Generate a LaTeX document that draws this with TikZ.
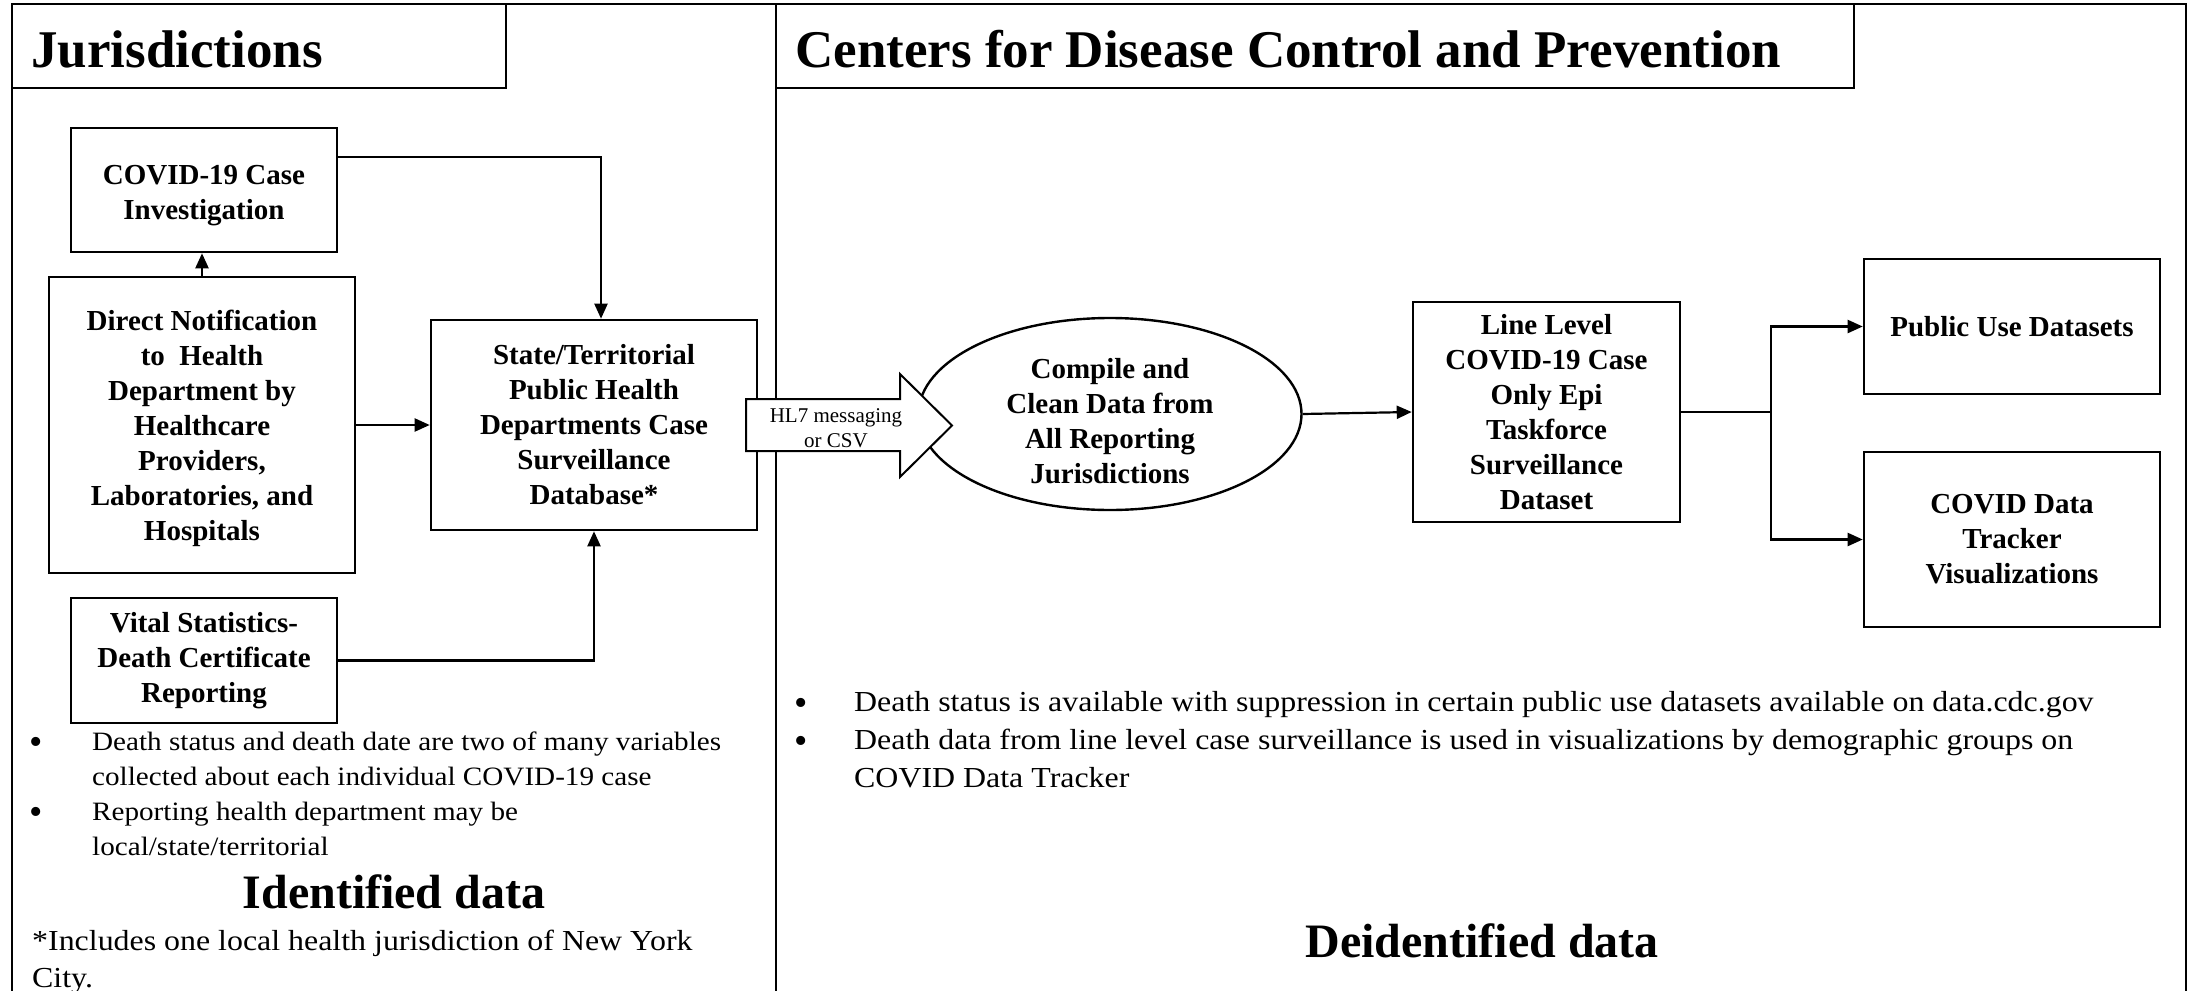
\documentclass[tikz,border=0pt]{standalone}
\usepackage{fontspec}
\setmainfont{Liberation Serif}
\newfontfamily\regwide[FakeStretch=1.1]{Liberation Serif}
\usetikzlibrary{arrows.meta,shapes.geometric}
\begin{document}
\begin{tikzpicture}[x=1pt,y=-1pt,
  box/.style={draw,line width=2.6pt,align=center,inner sep=0pt,font=\fontsize{29}{35}\selectfont\bfseries},
  boxtext/.style={inner sep=0pt,align=center,font=\fontsize{29}{35}\selectfont\bfseries},
  conn/.style={line width=2.2pt,-{Triangle[length=15pt,width=13pt]}},
  plain/.style={line width=2.2pt},
  frame/.style={line width=2.2pt},
  thinframe/.style={line width=1.4pt},
  body/.style={inner sep=0pt,font=\fontsize{26.5}{35}\regwide},
  rbody/.style={inner sep=0pt,font=\fontsize{29}{38}\regwide},
  bul/.style={inner sep=0pt,font=\fontsize{38}{40}\selectfont},
  titletext/.style={inner sep=0pt,font=\fontsize{53}{60}\selectfont\bfseries},
  bigtext/.style={inner sep=0pt,font=\fontsize{48}{56}\selectfont\bfseries},
]
\useasboundingbox (0,0) rectangle (2191,990);
\clip (0,0) rectangle (2191,990);

% frame
\draw[frame] (12,1000) -- (12,4) -- (2186,4) -- (2186,1000);
\draw[thinframe] (776,4) -- (776,1000);
\draw[thinframe] (12,88) -- (506,88) -- (506,4);
\draw[thinframe] (776,88) -- (1854,88) -- (1854,4);

% titles
\node[titletext,anchor=base west] (tj) at (31,67) {Jurisdictions};
\node[titletext,anchor=base west] (tc) at (795,67) {Centers for Disease Control and Prevention};

% left boxes
\node[box,minimum width=266pt,minimum height=124pt] (inv) at (204,190) {};
\node[boxtext] (invt) at (204,196) {COVID-19 Case\\Investigation};
\node[box,minimum width=306pt,minimum height=296pt] (dn) at (202,425) {};
\node[boxtext] (dnt) at (202,428) {Direct Notification\\to\ \ Health\\Department by\\Healthcare\\Providers,\\Laboratories, and\\Hospitals};
\node[box,minimum width=326pt,minimum height=210pt] (st) at (594,425) {State/Territorial\\Public Health\\Departments Case\\Surveillance\\Database*};
\node[box,minimum width=266pt,minimum height=125pt] (vs) at (204,660.5) {Vital Statistics-\\Death Certificate\\Reporting};

\draw[conn] (dn.north) -- (dn.north |- inv.south);
\draw[conn] ([yshift=33pt]inv.east) -| ([xshift=7pt]st.north);
\draw[conn] (dn.east) -- (st.west);
\draw[conn] (vs.east) -| (st.south);

% right diagram
\node[draw,ellipse,line width=2.4pt,minimum width=383pt,minimum height=192pt,inner sep=0pt] (ell) at (1110,414) {};
\node[boxtext] (ellt) at (1110,421) {Compile and\\Clean Data from\\All Reporting\\Jurisdictions};

\draw[line width=2pt,fill=white] (746,399) -- (900,399) -- (900,374) -- (952,425.5) -- (900,477) -- (900,451) -- (746,451) -- cycle;
\node[inner sep=0pt,align=center,font=\fontsize{21}{25}\selectfont] (hl7) at (836,428) {HL7 messaging\\or CSV};

\node[box,minimum width=267pt,minimum height=220pt] (ll) at (1546.5,412) {Line Level\\COVID-19 Case\\Only Epi\\Taskforce\\Surveillance\\Dataset};
\node[box,minimum width=296pt,minimum height=135pt] (pu) at (2012,326.5) {Public Use Datasets};
\node[box,minimum width=296pt,minimum height=175pt] (cdt) at (2012,539.5) {COVID Data\\Tracker\\Visualizations};

\draw[conn] (ell.east) -- (ll.west);
\coordinate (jn) at (1771,412);
\draw[plain] (ll.east) -- (jn);
\draw[conn] (jn) |- (pu.west);
\draw[conn] (jn) |- (cdt.west);

% left notes
\node[bul,anchor=base] (lb1) at (36,754) {\textbullet};
\node[body,anchor=base west] (l1a) at (92,750) {Death status and death date are two of many variables};
\node[body,anchor=base west] (l1b) at (92,785) {collected about each individual COVID-19 case};
\node[bul,anchor=base] (lb2) at (36,824) {\textbullet};
\node[body,anchor=base west] (l2a) at (92,820) {Reporting health department may be};
\node[body,anchor=base west] (l2b) at (92,855) {local/state/territorial};
\node[bigtext,anchor=base] (idd) at (394,908) {Identified data};
\node[inner sep=0pt,font=\fontsize{29}{38}\regwide,anchor=base west] (fn1) at (32,950) {*Includes one local health jurisdiction of New York};
\node[inner sep=0pt,font=\fontsize{29}{38}\regwide,anchor=base west] (fn2) at (32,987) {City.};

% right notes
\node[bul,anchor=base] (rb1) at (801,715) {\textbullet};
\node[rbody,anchor=base west] (r1a) at (854,711) {Death status is available with suppression in certain public use datasets available on data.cdc.gov};
\node[bul,anchor=base] (rb2) at (801,753) {\textbullet};
\node[rbody,anchor=base west] (r2a) at (854,749) {Death data from line level case surveillance is used in visualizations by demographic groups on};
\node[rbody,anchor=base west] (r2b) at (854,787) {COVID Data Tracker};
\node[bigtext,anchor=base] (ded) at (1482,957) {Deidentified data};
\end{tikzpicture}
\end{document}
